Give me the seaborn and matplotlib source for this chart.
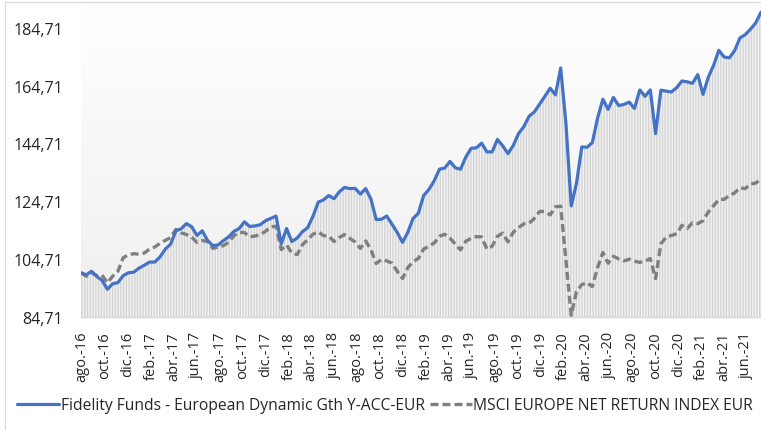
"""Fund vs index performance chart (Excel-style line chart)."""
import matplotlib
matplotlib.use("Agg")
import matplotlib.pyplot as plt
import matplotlib.dates as mdates
from matplotlib.colors import LinearSegmentedColormap
from matplotlib.lines import Line2D
from matplotlib.ticker import FuncFormatter
import numpy as np
import pandas as pd
import seaborn as sns

# bi-weekly values
START = "2016-07-29"
N_POINTS = 130
FUND_NAME = "Fidelity Funds - European Dynamic Gth Y-ACC-EUR"
INDEX_NAME = "MSCI EUROPE NET RETURN INDEX EUR"

FUND = [100.0, 99.3, 100.5, 98.7, 97.4, 94.3, 96.2, 96.6, 99.0, 100.0,
        100.2, 101.6, 102.6, 103.7, 103.7, 105.5, 108.2, 109.9, 114.5, 115.2,
        117.0, 115.9, 112.9, 114.5, 111.2, 109.4, 109.6, 111.1, 112.4, 114.3,
        115.3, 117.6, 116.0, 116.2, 116.6, 118.0, 118.8, 119.6, 110.0, 115.3,
        110.8, 112.0, 114.2, 115.6, 119.5, 124.4, 125.2, 126.7, 125.6, 128.0,
        129.5, 129.1, 129.2, 127.2, 129.1, 125.5, 118.4, 118.5, 119.6, 116.8,
        113.9, 110.5, 114.0, 118.8, 120.6, 126.7, 128.8, 131.8, 135.8, 136.2,
        138.5, 136.3, 135.8, 140.0, 143.0, 143.2, 144.8, 141.8, 141.8, 146.1,
        143.9, 141.2, 144.0, 148.1, 150.5, 154.1, 155.6, 158.3, 161.0, 163.8,
        161.5, 170.8, 151.5, 123.1, 131.0, 143.5, 143.4, 145.0, 153.5, 160.0,
        156.5, 160.6, 157.8, 158.2, 159.0, 156.8, 163.2, 161.0, 163.2, 148.1,
        163.1, 162.8, 162.5, 164.0, 166.3, 166.0, 165.5, 168.5, 161.7, 167.6,
        171.7, 176.9, 174.6, 174.3, 176.8, 181.2, 182.3, 184.2, 186.4, 190.1]

INDEX = [100.0, 98.8, 100.0, 99.0, 99.2, 96.5, 98.8, 100.5, 105.2, 106.2,
         106.6, 106.4, 106.8, 108.2, 108.9, 110.2, 111.2, 112.2, 115.0, 113.8,
         113.2, 112.3, 110.5, 111.1, 110.9, 108.4, 108.9, 109.4, 110.5, 112.8,
         114.0, 113.9, 112.4, 112.7, 113.2, 114.3, 115.9, 116.1, 108.0, 109.6,
         106.8, 106.3, 109.7, 111.4, 113.3, 114.2, 112.8, 112.7, 110.8, 112.2,
         113.2, 111.9, 110.6, 108.4, 111.0, 108.0, 103.2, 104.6, 104.1, 103.3,
         100.5, 98.0, 101.8, 103.8, 105.0, 108.2, 109.2, 110.3, 112.6, 113.3,
         112.0, 109.9, 107.9, 110.9, 111.9, 112.5, 112.4, 108.2, 109.2, 112.6,
         113.7, 110.7, 114.0, 115.6, 116.9, 117.1, 118.8, 121.2, 121.2, 120.0,
         122.8, 123.0, 104.0, 85.3, 93.5, 95.9, 96.6, 95.2, 101.8, 107.0,
         103.3, 105.7, 104.8, 104.1, 104.7, 104.0, 103.6, 104.0, 104.9, 98.0,
         110.0, 112.3, 112.9, 113.5, 116.4, 115.3, 117.3, 117.0, 118.0, 121.0,
         123.2, 125.3, 125.4, 126.7, 127.6, 129.4, 129.1, 130.7, 131.0, 132.5]

Y_TICKS = [84.71, 104.71, 124.71, 144.71, 164.71, 184.71]
Y_MAX = 192.71
MONTHS_ES = {2: "feb.", 4: "abr.", 6: "jun.", 8: "ago.", 10: "oct.", 12: "dic."}

BLUE = "#4472C4"
GREY = "#7F7F7F"

sns.set_theme(style="white")
plt.rcParams["font.family"] = ["Open Sans", "DejaVu Sans"]
plt.rcParams["hatch.linewidth"] = 1.0

dates = pd.date_range(START, periods=N_POINTS, freq="14D")
df = pd.DataFrame({"date": dates, "fund": FUND, "index": INDEX})

fig = plt.figure(figsize=(7.61, 4.31), dpi=100)
ax = fig.add_axes([81 / 761, 113 / 431, 680 / 761, (318.3 - 5.9) / 431])

# soft vertical gradient behind the plot area
grad = LinearSegmentedColormap.from_list("bg", ["#FFFFFF", "#EFEFEF"])
ax.imshow(np.linspace(0, 1, 256).reshape(-1, 1), cmap=grad, aspect="auto",
          extent=[0, 1, 0, 1], transform=ax.transAxes, zorder=0)

# striped area under the fund line
ax.fill_between(df["date"], Y_TICKS[0], df["fund"], facecolor="#F2F2F2",
                edgecolor="#D4D4D4", hatch="||||||", linewidth=0, zorder=1)

sns.lineplot(data=df, x="date", y="index", ax=ax, color=GREY, lw=2.4,
             linestyle=(0, (2.4, 1.2)), label=INDEX_NAME, zorder=3)
sns.lineplot(data=df, x="date", y="fund", ax=ax, color=BLUE, lw=2.3,
             label=FUND_NAME, zorder=4)

ax.set_xlim(dates[0], dates[-1])
ax.set_ylim(Y_TICKS[0], Y_MAX)
ax.set_yticks(Y_TICKS)
ax.yaxis.set_major_formatter(FuncFormatter(lambda v, _: f"{v:.2f}".replace(".", ",")))
ax.xaxis.set_major_locator(mdates.MonthLocator(bymonth=list(MONTHS_ES)))
ax.xaxis.set_major_formatter(FuncFormatter(
    lambda v, _: f"{MONTHS_ES[mdates.num2date(v).month]}-{mdates.num2date(v):%y}"))
ax.tick_params(axis="x", length=0, pad=10, labelsize=10.5, rotation=90, colors="#262626")
ax.tick_params(axis="y", length=0, pad=13, labelsize=11.5, colors="#262626")
ax.set_xlabel("")
ax.set_ylabel("")
for side in ["top", "right", "left"]:
    ax.spines[side].set_visible(False)
ax.spines["bottom"].set_color("#D9D9D9")
ax.spines["bottom"].set_linewidth(1.0)
ax.grid(False)

# legend below, in series order fund then index
handles, labels = ax.get_legend_handles_labels()
order = [labels.index(FUND_NAME), labels.index(INDEX_NAME)]
ax.get_legend().remove()
leg_handles = [handles[i] for i in order]
leg_labels = [labels[i] for i in order]


def add_legend(size):
    handle_len = 42 / (size * 100 / 72)
    return fig.legend(leg_handles, leg_labels, loc="center left",
                      bbox_to_anchor=(17 / 761, 25 / 431), ncol=2, frameon=False,
                      fontsize=size, handlelength=handle_len, handletextpad=0.12,
                      columnspacing=0.3, borderpad=0, borderaxespad=0,
                      labelcolor="#262626")


# size the legend so the first label spans the same width as in the original
leg = add_legend(11.0)
fig.canvas.draw()
w = leg.get_texts()[0].get_window_extent().width
leg.remove()
leg = add_legend(11.0 * 365 / w)

# chart-area frame (top and left edges visible)
fig.add_artist(Line2D([4.5 / 761, 4.5 / 761], [0, 1 - 2.5 / 431], color="#D9D9D9", lw=0.9))
fig.add_artist(Line2D([4.5 / 761, 1], [1 - 2.5 / 431, 1 - 2.5 / 431], color="#D9D9D9", lw=0.9))

fig.savefig("out.png", dpi=100)
plt.close(fig)
